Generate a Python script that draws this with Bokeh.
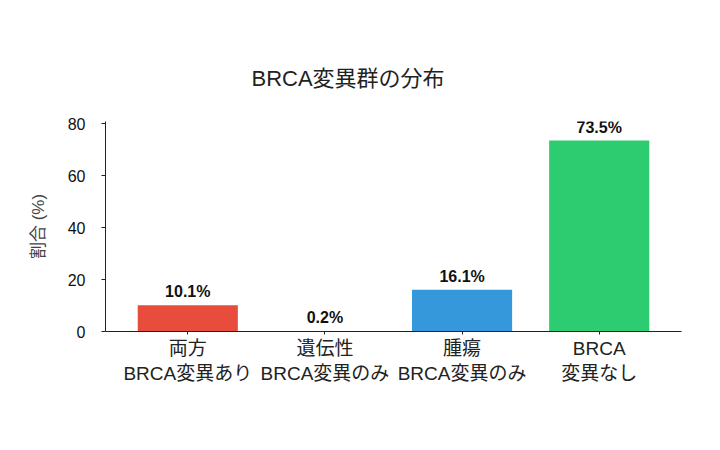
from bokeh.plotting import figure
from bokeh.models import ColumnDataSource, FactorRange, Range1d, FixedTicker, Title
from bokeh.core.properties import value
from bokeh.embed import file_html
from bokeh.resources import INLINE

categories = ["両方\nBRCA変異あり", "遺伝性\nBRCA変異のみ", "腫瘍\nBRCA変異のみ", "BRCA\n変異なし"]
percentages = [10.1, 0.2, 16.1, 73.5]
bar_colors = ["#e74c3c", "#e67e22", "#3498db", "#2ecc71"]
y_ticks = [0, 20, 40, 60, 80]
title_text = "BRCA変異群の分布"
y_label = "割合 (%)"

FONT = "'Liberation Sans', 'Noto Sans CJK JP', sans-serif"

source = ColumnDataSource(dict(
    cat=categories,
    val=percentages,
    color=bar_colors,
    lab=[f"{v}%" for v in percentages],
))

p = figure(
    width=704, height=434,
    x_range=FactorRange(*categories, range_padding=0.05, range_padding_units="percent"),
    y_range=Range1d(0, 80.85),
    output_backend="svg", toolbar_location=None,
    min_border_left=105, min_border_right=23, min_border_top=121, min_border_bottom=103,
)
p.outline_line_color = None
p.grid.visible = False
p.background_fill_color = "white"
p.border_fill_color = "white"

p.vbar(x="cat", top="val", width=0.73, color="color", source=source, line_color=None)
p.text(x="cat", y="val", text="lab", source=source, text_align="center",
       text_baseline="bottom", y_offset=-5, text_font=value(FONT),
       text_font_size="16px", text_font_style="bold", text_color="#111111")

t = Title(text=title_text, align="left", text_font=FONT, text_font_size="22px",
          text_font_style="normal", text_color="#222222", offset=146, standoff=62)
p.add_layout(t, "above")

ya = p.yaxis[0]
ya.ticker = FixedTicker(ticks=y_ticks)
ya.axis_label = y_label
ya.axis_label_text_font = FONT
ya.axis_label_text_font_size = "17px"
ya.axis_label_text_font_style = "normal"
ya.axis_label_text_color = "#444444"
ya.axis_label_standoff = 17
ya.major_label_text_font = FONT
ya.major_label_text_font_size = "16px"
ya.major_label_text_color = "#111111"
ya.major_tick_out = 4
ya.major_tick_in = 0
ya.minor_tick_line_color = None
ya.major_label_standoff = 16
ya.axis_line_color = "#222222"
ya.major_tick_line_color = "#222222"

xa = p.xaxis[0]
xa.major_label_text_font = FONT
xa.major_label_text_font_size = "19px"
xa.major_label_text_color = "#222222"
xa.major_tick_out = 3
xa.major_tick_in = 0
xa.major_label_standoff = 3
xa.axis_line_color = "#222222"
xa.major_tick_line_color = "#222222"
xa.major_label_orientation = "horizontal"

open("out.html", "w").write(file_html(p, INLINE))
